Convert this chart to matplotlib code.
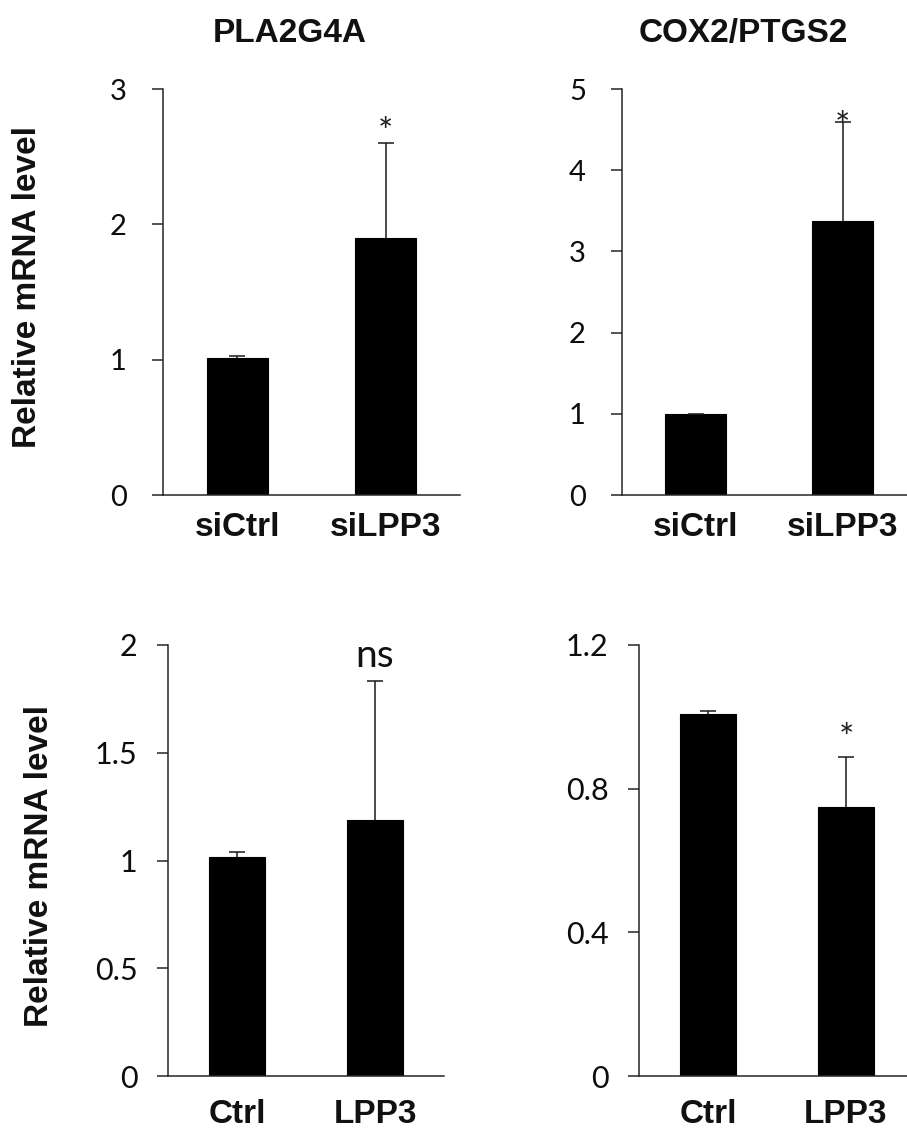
import matplotlib
matplotlib.use("Agg")
import matplotlib.pyplot as plt

# ---- data ----
top_categories = ["siCtrl", "siLPP3"]
bottom_categories = ["Ctrl", "LPP3"]

pla2g4a_si_mean = [1.01, 1.90]
pla2g4a_si_err = [0.015, 0.70]
cox2_si_mean = [1.0, 3.37]
cox2_si_err = [0.0, 1.22]
pla2g4a_oe_mean = [1.016, 1.188]
pla2g4a_oe_err = [0.024, 0.645]
cox2_oe_mean = [1.008, 0.749]
cox2_oe_err = [0.009, 0.14]

titles = ["PLA2G4A", "COX2/PTGS2"]
ylabel = "Relative mRNA level"

yticks_tl = [0, 1, 2, 3]
ytick_labels_tl = ["0", "1", "2", "3"]
yticks_tr = [0, 1, 2, 3, 4, 5]
ytick_labels_tr = ["0", "1", "2", "3", "4", "5"]
yticks_bl = [0, 0.5, 1, 1.5, 2]
ytick_labels_bl = ["0", "0.5", "1", "1.5", "2"]
yticks_br = [0, 0.4, 0.8, 1.2]
ytick_labels_br = ["0", "0.4", "0.8", "1.2"]

# significance annotations: (label, bar index, y position in data units)
sig_tl = ("*", 1, 2.74)
sig_tr = ("*", 1, 4.65)
sig_bl = ("ns", 1, 1.90)
sig_br = ("*", 1, 0.964)

W, H = 907, 1133
fig = plt.figure(figsize=(W / 100, H / 100), dpi=100)
fig.patch.set_facecolor("white")


def px_axes(left, right, top, bottom):
    return fig.add_axes([left / W, 1 - bottom / H, (right - left) / W, (bottom - top) / H])


spine_col = "#262626"


def draw(ax, cats, means, errs, ylim, yticks, ylabels, ypad, xpad, ytick_fs, sig, sig_fs, sig_is_star):
    x = list(range(len(cats)))
    lower = [0] * len(errs)
    ax.bar(x, means, width=0.41, color="black", edgecolor="black", linewidth=0.8, zorder=2)
    _, caps, _ = ax.errorbar(x, means, yerr=[lower, errs], fmt="none", ecolor="#1a1a1a",
                             elinewidth=1.1, capsize=6, capthick=1.1, zorder=3)
    if len(caps) == 2:
        caps[0].set_visible(False)
    ax.set_xlim(-0.5, 1.5)
    ax.set_ylim(*ylim)
    ax.set_yticks(yticks)
    ax.set_yticklabels(ylabels, fontfamily="Lato", fontsize=ytick_fs, color="#0d0d0d")
    ax.set_xticks(x)
    ax.set_xticklabels(cats, fontfamily="Liberation Sans", fontweight="bold", fontsize=24, color="#111111")
    ax.tick_params(axis="y", direction="out", length=8, width=1.1, color=spine_col, pad=ypad)
    ax.tick_params(axis="x", length=0, pad=xpad)
    for s in ["top", "right"]:
        ax.spines[s].set_visible(False)
    for s in ["left", "bottom"]:
        ax.spines[s].set_color(spine_col)
        ax.spines[s].set_linewidth(1.1)
    ax.set_facecolor("none")
    lab, idx, yv = sig
    if sig_is_star:
        ax.annotate(lab, xy=(idx, yv), xytext=(0, -14.5), textcoords="offset points",
                    ha="center", va="baseline", fontfamily="Lato", fontsize=sig_fs, color="#222222",
                    annotation_clip=False)
    else:
        ax.text(idx, yv, lab, ha="center", va="baseline", fontfamily="Lato",
                fontsize=sig_fs, color="#111111")


ax_tl = px_axes(163, 460, 89, 495)
draw(ax_tl, top_categories, pla2g4a_si_mean, pla2g4a_si_err, (0, 3), yticks_tl, ytick_labels_tl,
     18, 12, 21, sig_tl, 26, True)
ax_tr = px_axes(622, 916, 89, 495)
draw(ax_tr, top_categories, cox2_si_mean, cox2_si_err, (0, 5), yticks_tr, ytick_labels_tr,
     18, 12, 21, sig_tr, 26, True)
ax_bl = px_axes(168, 444, 645, 1076)
draw(ax_bl, bottom_categories, pla2g4a_oe_mean, pla2g4a_oe_err, (0, 2), yticks_bl, ytick_labels_bl,
     14, 16.5, 22, sig_bl, 28, False)
ax_br = px_axes(639, 915, 645, 1076)
draw(ax_br, bottom_categories, cox2_oe_mean, cox2_oe_err, (0, 1.2), yticks_br, ytick_labels_br,
     14, 16.5, 22, sig_br, 26, True)

# titles
fig.text(290 / W, 1 - 42 / H, titles[0], ha="center", va="baseline",
         fontfamily="Liberation Sans", fontweight="bold", fontsize=24, color="#111111")
fig.text(743 / W, 1 - 42 / H, titles[1], ha="center", va="baseline",
         fontfamily="Liberation Sans", fontweight="bold", fontsize=24, color="#111111")

# y labels
fig.text(28 / W, 1 - 287 / H, ylabel, rotation=90, ha="center", va="center",
         fontfamily="Liberation Sans", fontweight="bold", fontsize=24, color="#111111")
fig.text(40 / W, 1 - 866 / H, ylabel, rotation=90, ha="center", va="center",
         fontfamily="Liberation Sans", fontweight="bold", fontsize=24, color="#111111")

fig.savefig("out.png", dpi=100, facecolor="white")
